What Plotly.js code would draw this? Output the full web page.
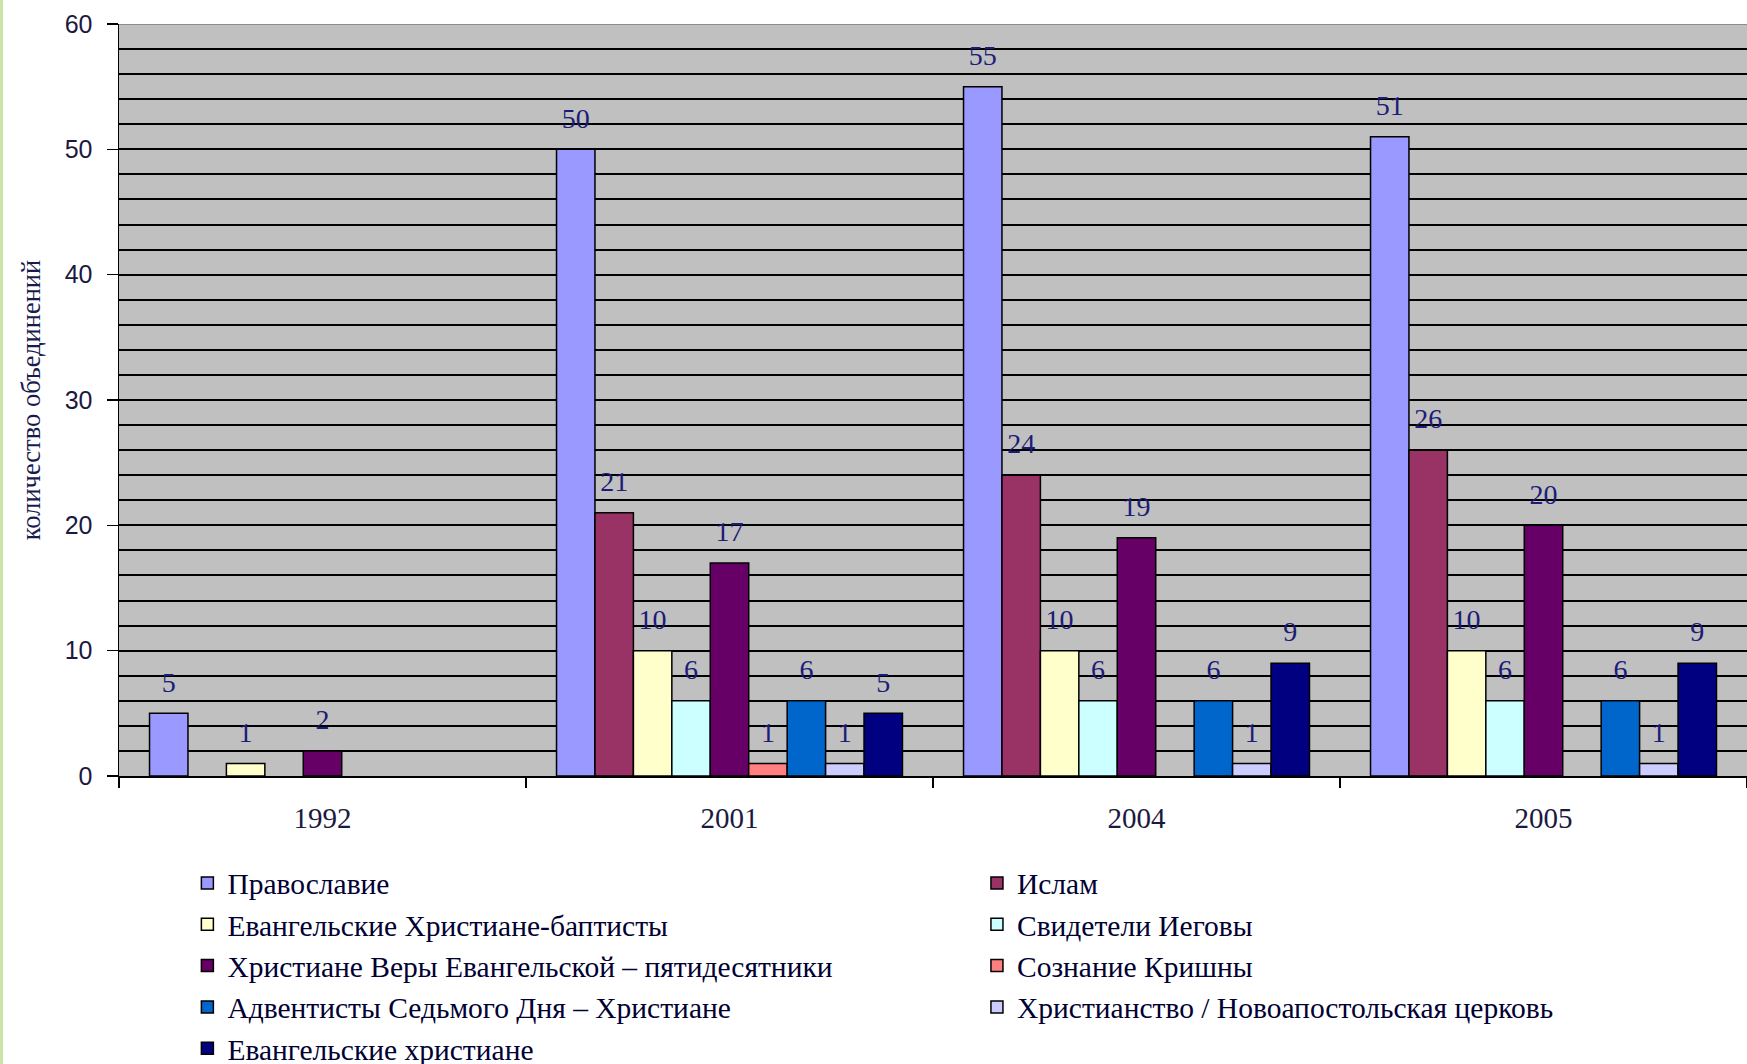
<!DOCTYPE html>
<html><head><meta charset="utf-8">
<script src="https://cdn.plot.ly/plotly-3.0.1.min.js"></script>
<style>
html,body{margin:0;padding:0;background:#fff;overflow:hidden}
#chart{width:1747px;height:1064px}
#edge{position:absolute;left:0;top:0;width:3px;height:1064px;background:#c9e4a6;z-index:10}
</style>
</head><body><div id="edge"></div><div id="chart"></div>
<script>
// ---- data ----
const years = ['1992', '2001', '2004', '2005'];
const seriesNames = [
  'Православие',
  'Ислам',
  'Евангельские Христиане-баптисты',
  'Свидетели Иеговы',
  'Христиане Веры Евангельской – пятидесятники',
  'Сознание Кришны',
  'Адвентисты Седьмого Дня – Христиане',
  'Христианство / Новоапостольская церковь',
  'Евангельские христиане'
];
const pravoslavie = [5, 50, 55, 51];
const islam = [null, 21, 24, 26];
const ekhb = [1, 10, 10, 10];
const svideteli = [null, 6, 6, 6];
const khve = [2, 17, 19, 20];
const krishna = [null, 1, null, null];
const adventisty = [null, 6, 6, 6];
const novoapost = [null, 1, 1, 1];
const evangel = [null, 5, 9, 9];
const yTickVals = [0, 10, 20, 30, 40, 50, 60];
const yTitle = 'количество объединений';

// ---- styles ----
const seriesValues = [pravoslavie, islam, ekhb, svideteli, khve, krishna, adventisty, novoapost, evangel];
const seriesColors = ['#9999ff', '#993366', '#ffffcc', '#ccffff', '#660066', '#ff8080', '#0066cc', '#ccccff', '#000080'];
const legendColumn = ['legend', 'legend2', 'legend', 'legend2', 'legend', 'legend2', 'legend', 'legend2', 'legend'];
const serif = '"Liberation Serif", "Times New Roman", serif';
const sans = '"Liberation Sans", Arial, sans-serif';

const traces = [];
seriesValues.forEach((vals, i) => {
  traces.push({
    type: 'bar', name: seriesNames[i], x: years, y: vals,
    marker: {color: seriesColors[i], line: {color: '#000', width: 1.5}},
    legend: legendColumn[i], legendgroup: 'g' + i, hoverinfo: 'name+y'
  });
});
seriesValues.forEach((vals, i) => {
  traces.push({
    type: 'scatter', mode: 'markers+text', x: years, y: vals,
    text: vals.map(v => v === null ? '' : String(v)),
    textposition: 'top center',
    textfont: {family: serif, size: 28, color: '#1c1c78'},
    marker: {size: 22, opacity: 0},
    showlegend: false, hoverinfo: 'skip', legendgroup: 'g' + i, cliponaxis: false
  });
});

const legendBase = {
  xref: 'paper', yref: 'paper', xanchor: 'left', yanchor: 'top',
  y: -0.108, traceorder: 'grouped', tracegroupgap: 0,
  font: {family: serif, size: 29.5, color: '#000033'},
  bgcolor: 'rgba(0,0,0,0)', borderwidth: 0, itemwidth: 30
};

const layout = {
  width: 1747, height: 1064,
  margin: {l: 119, r: 0, t: 24, b: 288, pad: 0, autoexpand: false},
  paper_bgcolor: '#ffffff', plot_bgcolor: '#c0c0c0',
  barmode: 'group', bargap: 0.15, bargroupgap: 0,
  scattermode: 'group', scattergap: 0.15,
  xaxis: {
    type: 'category', tickson: 'boundaries', ticks: 'outside', ticklen: 10, tickwidth: 1.5, tickcolor: '#000',
    showline: true, linecolor: '#000', linewidth: 1.5, showgrid: false, tickangle: 0,
    tickfont: {family: serif, size: 29, color: '#1a1a40'}, ticklabelstandoff: 16,
    fixedrange: true
  },
  yaxis: {
    range: [0, 60], tickvals: yTickVals, ticks: 'outside', ticklen: 11, tickwidth: 1.5, tickcolor: '#000',
    showline: true, linecolor: '#000', linewidth: 1.5, zeroline: false,
    showgrid: true, gridcolor: '#000', gridwidth: 2,
    minor: {dtick: 2, showgrid: true, gridcolor: '#000', gridwidth: 2},
    tickfont: {family: sans, size: 25, color: '#1a1a40'}, ticklabelstandoff: 9,
    title: {text: yTitle, font: {family: serif, size: 26.5, color: '#1a1a50'}, standoff: 16},
    fixedrange: true
  },
  legend: Object.assign({}, legendBase, {x: 0.042}),
  legend2: Object.assign({}, legendBase, {x: 0.527}),
  shapes: [{type: 'line', xref: 'paper', yref: 'y', x0: 0, x1: 1, y0: 60, y1: 60,
            line: {color: '#8c8c8c', width: 2}, layer: 'above'}],
  showlegend: true
};

Plotly.newPlot('chart', traces, layout, {displayModeBar: false, staticPlot: true});
</script>
</body></html>
